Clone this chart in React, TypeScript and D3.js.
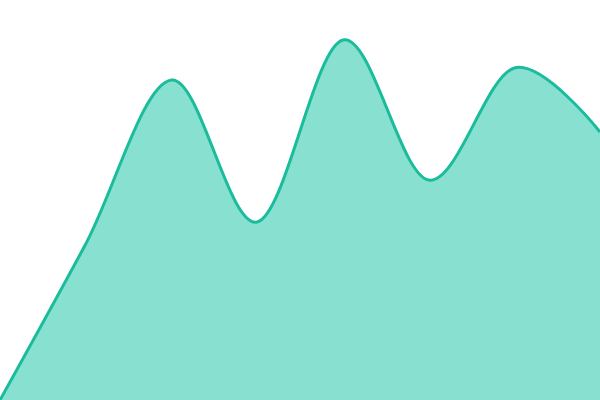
import * as d3 from "d3";

const width = 600;
const height = 400;

// x positions are just indexes, evenly spread over the width
const labels = ["0", "1", "2", "3", "4", "5", "6", "7"];
const values = [0, 39, 80, 44.5, 90, 55, 83, 67];

export default function App() {
    const xScale = d3.scalePoint<string>()
        .domain(labels)
        .range([0, width]);

    const yScale = d3.scaleLinear()
        .domain([0, 100])
        .range([height, 0]);

    const area = d3.area<number>()
        .x((_, i) => xScale(labels[i]) ?? 0)
        .y0(height)
        .y1(d => yScale(d))
        .curve(d3.curveCardinal);

    const line = d3.line<number>()
        .x((_, i) => xScale(labels[i]) ?? 0)
        .y(d => yScale(d))
        .curve(d3.curveCardinal);

    return (
        <svg
            width={width}
            height={height}
            style={{ position: "fixed", top: 0, left: 0, display: "block" }}
        >
            <path d={area(values) ?? ""} fill="#88e0d0" />
            <path d={line(values) ?? ""} fill="none" stroke="#1abc9c" strokeWidth={3} />
        </svg>
    );
}
